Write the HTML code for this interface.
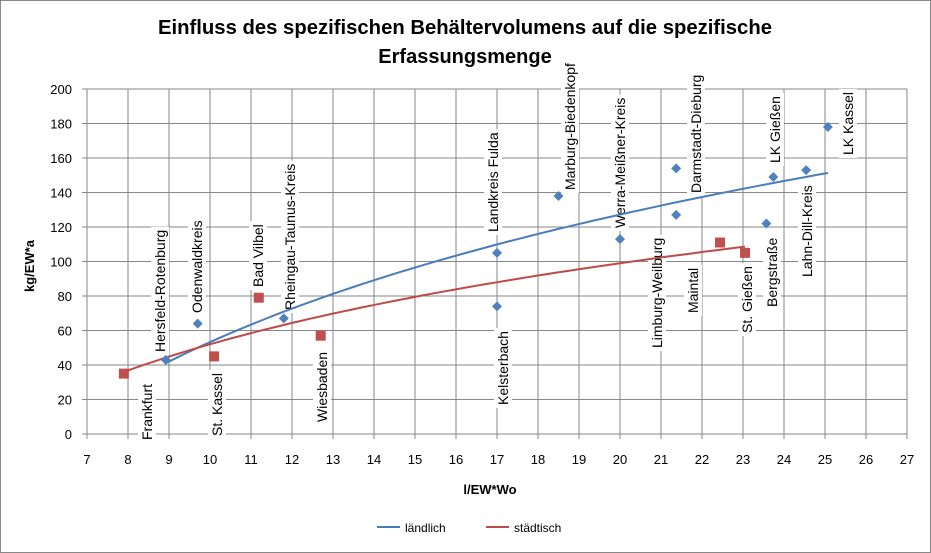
<!DOCTYPE html>
<html><head><meta charset="utf-8"><style>
html,body{margin:0;padding:0;background:#fff}
svg{display:block;font-family:"Liberation Sans",sans-serif}
</style></head><body>
<svg id="chart" width="931" height="553" viewBox="0 0 931 553" xmlns="http://www.w3.org/2000/svg">
<rect x="0.5" y="0.5" width="930" height="552" fill="#fff" stroke="#888"/>
<text x="465" y="34" text-anchor="middle" font-size="20" font-weight="bold" textLength="614" lengthAdjust="spacingAndGlyphs">Einfluss des spezifischen Behältervolumens auf die spezifische</text>
<text x="465" y="63" text-anchor="middle" font-size="20" font-weight="bold">Erfassungsmenge</text>
<text transform="translate(34,266) rotate(-90)" text-anchor="middle" font-size="13" font-weight="bold">kg/EW*a</text>
<text x="490" y="494" text-anchor="middle" font-size="13" font-weight="bold">l/EW*Wo</text>
<g id="grid"></g><g id="labels"></g><g id="lines"></g><g id="points"></g>
<g>
<line x1="377" y1="527" x2="400" y2="527" stroke="#4a7ebb" stroke-width="2"/>
<text x="405" y="532" font-size="12">ländlich</text>
<line x1="486" y1="527" x2="509" y2="527" stroke="#be4b48" stroke-width="2"/>
<text x="514" y="532" font-size="12">städtisch</text>
</g>
</svg>
<script>
const xTicks=[7,8,9,10,11,12,13,14,15,16,17,18,19,20,21,22,23,24,25,26,27];
const yTicks=[0,20,40,60,80,100,120,140,160,180,200];
const ruralNames=["Hersfeld-Rotenburg","Odenwaldkreis","Rheingau-Taunus-Kreis","Landkreis Fulda","Kelsterbach","Marburg-Biedenkopf","Werra-Meißner-Kreis","Darmstadt-Dieburg","Limburg-Weilburg","Bergstraße","LK Gießen","Lahn-Dill-Kreis","LK Kassel"];
const ruralX=[8.92,9.7,11.8,17,17,18.5,20,21.37,21.37,23.57,23.74,24.54,25.07];
const ruralY=[43,64,67,105,74,138,113,154,127,122,149,153,178];
const urbanNames=["Frankfurt","St. Kassel","Bad Vilbel","Wiesbaden","Maintal","St. Gießen"];
const urbanX=[7.9,10.1,11.19,12.7,22.44,23.05];
const urbanY=[35,45,79,57,111,105];
// label layout: [centerX px, bottomY px]
const ruralLabelPos=[[160,352],[197,313],[290,310],[493,232],[503,405],[570,190],[620,228],[696,193],[657,348],[772,307],[775,163],[807,277],[848,155]];
const urbanLabelPos=[[147,440],[217,436],[258,287],[322,422],[693,313],[747,333]];

const X0=87,X1=907,Y0=434,Y1=89;
const sx=v=>X0+(v-7)/(27-7)*(X1-X0);
const sy=v=>Y0-(v-0)/(200-0)*(Y0-Y1);
const NS="http://www.w3.org/2000/svg";
function mk(tag,attrs,parent){const e=document.createElementNS(NS,tag);for(const k in attrs)e.setAttribute(k,attrs[k]);parent.appendChild(e);return e;}
const grid=document.getElementById('grid');
xTicks.forEach(t=>{
  const l=mk('line',{x1:sx(t),x2:sx(t),y1:Y1,y2:Y0+5,stroke:'#878787','stroke-width':1},grid);
  
  
  const tx=mk('text',{x:sx(t),y:Y0+30,'text-anchor':'middle','font-size':13},grid);
  tx.textContent=t;
  
  
});
yTicks.forEach(t=>{
  const l=mk('line',{x1:X0-5,x2:X1,y1:sy(t),y2:sy(t),stroke:'#878787','stroke-width':1},grid);
  
  
  const tx=mk('text',{x:X0-15,y:sy(t)+5,'text-anchor':'end','font-size':13},grid);
  tx.textContent=t;
  
  
});
function logFit(xs,ys){const n=xs.length;let a=0,b=0,c=0,d=0;xs.forEach((x,i)=>{const l=Math.log(x);a+=l;b+=ys[i];c+=l*l;d+=l*ys[i];});const m=(n*d-a*b)/(n*c-a*a);return [m,(b-m*a)/n];}
function trend(xs,ys,color,name){
  const [m,k]=logFit(xs,ys);const lo=Math.min(...xs),hi=Math.max(...xs);let p='';
  for(let i=0;i<=60;i++){const x=lo+(hi-lo)*i/60;p+=(i?'L':'M')+sx(x).toFixed(1)+','+sy(m*Math.log(x)+k).toFixed(1);}
  const e=mk('path',{d:p,fill:'none',stroke:color,'stroke-width':2},document.getElementById('lines'));
  
  
}
trend(ruralX,ruralY,'#4a7ebb','trendline-laendlich');
trend(urbanX,urbanY,'#be4b48','trendline-staedtisch');
const pts=document.getElementById('points'),labs=document.getElementById('labels');
function label(name,pos){
  const g=mk('g',{transform:`translate(${pos[0]},${pos[1]}) rotate(-90)`},labs);
  
  
  const t=mk('text',{x:0,y:5,'font-size':14},g);t.textContent=name;
  const w=t.getComputedTextLength();
  const r=mk('rect',{x:-3,y:-9,width:w+6,height:18,fill:'#fff'},g);g.insertBefore(r,t);
}
ruralX.forEach((x,i)=>{
  const cx=sx(x),cy=sy(ruralY[i]);
  const d=mk('path',{d:`M${cx},${cy-5}L${cx+5},${cy}L${cx},${cy+5}L${cx-5},${cy}Z`,fill:'#4f81bd'},pts);
  
  
  label(ruralNames[i],ruralLabelPos[i]);
});
urbanX.forEach((x,i)=>{
  const cx=sx(x),cy=sy(urbanY[i]);
  const r=mk('rect',{x:cx-5,y:cy-5,width:10,height:10,fill:'#c0504d'},pts);
  
  
  label(urbanNames[i],urbanLabelPos[i]);
});
</script>
</body></html>
